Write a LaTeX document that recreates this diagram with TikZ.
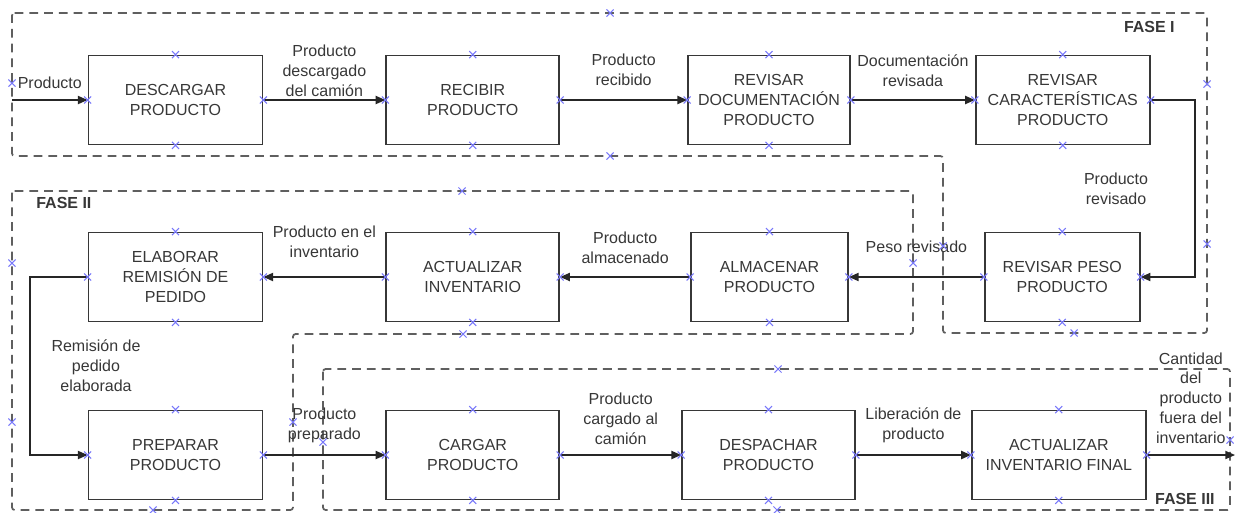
\documentclass[tikz,border=0pt]{standalone}
\usepackage{fontspec}
\setmainfont{Liberation Sans}
\usepackage{tikz}
\usetikzlibrary{arrows.meta, positioning}
\usepackage{xcolor}
\definecolor{inkgray}{RGB}{55,55,55}
\definecolor{framegray}{RGB}{95,95,95}
\definecolor{markblue}{RGB}{120,120,250}

\begin{document}
\begin{tikzpicture}[
        box/.style={draw=inkgray, line width=1pt, minimum width=3.48cm,
                    minimum height=1.78cm, inner sep=1pt, text=inkgray,
                    font=\fontsize{9.1}{11.3}\selectfont, align=center},
        lbl/.style={text=inkgray, font=\fontsize{9.1}{11.3}\selectfont, align=center, inner sep=0pt},
        fase/.style={text=inkgray, font=\fontsize{9.1}{11.3}\selectfont\bfseries, inner sep=0pt},
        fasebox/.style={draw=framegray, line width=1pt, dash pattern=on 5pt off 3.4pt, rounded corners=1.5pt},
        arrow/.style={-{Triangle[length=5.5pt, width=4.6pt]}, line width=0.9pt, draw=black!85},
        cruz/.style={draw=markblue, line width=0.6pt}
      ]
        \useasboundingbox (0,0) rectangle (24.72,-10.24);

        % fases
        \draw[fasebox] (0.24,-0.26) -- (24.14,-0.26) -- (24.14,-6.66) -- (18.86,-6.66)
          -- (18.86,-3.12) -- (0.24,-3.12) -- cycle;
        \draw[fasebox] (0.24,-3.82) -- (18.26,-3.82) -- (18.26,-6.68) -- (5.86,-6.68)
          -- (5.86,-10.2) -- (0.24,-10.2) -- cycle;
        \draw[fasebox] (6.46,-7.38) rectangle (24.6,-10.2);
        \node[fase, anchor=east] (f1) at (23.5,-0.54)  {FASE I};
        \node[fase, anchor=west] (f2) at (0.72,-4.06)  {FASE II};
        \node[fase, anchor=east] (f3) at (24.3,-9.98)  {FASE III};

        \node[box] (desc) at (3.51,-2.0) {DESCARGAR\\PRODUCTO};
        \node[box, minimum width=3.46cm, right=2.44cm of desc]   (recib)  {RECIBIR\\PRODUCTO};
        \node[box, minimum width=3.24cm, right=2.54cm of recib]  (revdoc) {REVISAR\\DOCUMENTACIÓN\\PRODUCTO};
        \node[box, right=2.48cm of revdoc] (revcar) {REVISAR\\CARACTERÍSTICAS\\PRODUCTO};

        \node[box] (elab) at (3.51,-5.54) {ELABORAR\\REMISIÓN DE\\PEDIDO};
        \node[box, minimum width=3.46cm, right=2.44cm of elab]   (actinv)  {ACTUALIZAR\\INVENTARIO};
        \node[box, minimum width=3.14cm, right=2.6cm of actinv]  (almac)   {ALMACENAR\\PRODUCTO};
        \node[box, minimum width=3.1cm, right=2.7cm of almac]    (revpeso) {REVISAR PESO\\PRODUCTO};

        \node[box] (prep) at (3.51,-9.1) {PREPARAR\\PRODUCTO};
        \node[box, minimum width=3.46cm, right=2.44cm of prep]   (cargar) {CARGAR\\PRODUCTO};
        \node[box, minimum width=3.46cm, right=2.42cm of cargar] (desp)   {DESPACHAR\\PRODUCTO};
        \node[box, right=2.3cm of desp] (actfin) {ACTUALIZAR\\INVENTARIO FINAL};

        \coordinate (entrada) at (0.24,-2.0);
        \coordinate (salida)  at (24.7,-9.1);
        \coordinate (giro1)   at (23.9,-2.0);
        \coordinate (giro2)   at (0.6,-5.54);

        \draw[arrow] (entrada) -- node[lbl, yshift=0.34cm] (l0) {Producto} (desc);
        \draw[arrow] (desc) -- node[lbl, yshift=0.58cm] (l1) {Producto\\descargado\\del camión} (recib);
        \draw[arrow] (recib) -- node[lbl, yshift=0.6cm] (l2) {Producto\\recibido} (revdoc);
        \draw[arrow] (revdoc) -- node[lbl, yshift=0.58cm] (l3) {Documentación\\revisada} (revcar);
        \draw[arrow] (revcar.east) -- (giro1) |- node[lbl, pos=0.25, xshift=-1.58cm] (l4) {Producto\\revisado} (revpeso.east);
        \draw[arrow] (revpeso) -- node[lbl, yshift=0.6cm] (l5) {Peso revisado} (almac);
        \draw[arrow] (almac) -- node[lbl, yshift=0.58cm] (l6) {Producto\\almacenado} (actinv);
        \draw[arrow] (actinv) -- node[lbl, yshift=0.7cm] (l7) {Producto en el\\inventario} (elab);
        \draw[arrow] (elab.west) -- (giro2) |- node[lbl, pos=0.25, xshift=1.32cm] (l8) {Remisión de\\pedido\\elaborada} (prep.west);
        \draw[arrow] (prep) -- node[lbl, yshift=0.6cm] (l9) {Producto\\preparado} (cargar);
        \draw[arrow] (cargar) -- node[lbl, yshift=0.72cm] (l10) {Producto\\cargado al\\camión} (desp);
        \draw[arrow] (desp) -- node[lbl, yshift=0.6cm] (l11) {Liberación de\\producto} (actfin);
        \draw[arrow] (actfin) -- node[lbl, yshift=1.14cm] (l12) {Cantidad\\del\\producto\\fuera del\\inventario} (salida);

        % puntos de conexion
        \foreach \n in {desc,recib,revdoc,revcar,elab,actinv,almac,revpeso,prep,cargar,desp,actfin}
          \foreach \a in {north,south,east,west}
            \draw[cruz] (\n.\a) +(-2pt,-2pt) -- +(2pt,2pt) +(-2pt,2pt) -- +(2pt,-2pt);
        \foreach \p in {(12.2,-0.26),(12.2,-3.12),(0.24,-1.66),(24.14,-1.68),(24.14,-4.88),
                        (18.86,-4.92),(21.48,-6.66),(9.24,-3.82),(0.24,-5.26),(9.26,-6.68),
                        (18.26,-5.26),(0.24,-8.44),(5.86,-8.44),(3.06,-10.2),(15.56,-7.38),
                        (6.46,-8.84),(24.6,-8.8),(15.54,-10.2)}
          \draw[cruz] \p +(-2pt,-2pt) -- +(2pt,2pt) +(-2pt,2pt) -- +(2pt,-2pt);
      \end{tikzpicture}
\end{document}
